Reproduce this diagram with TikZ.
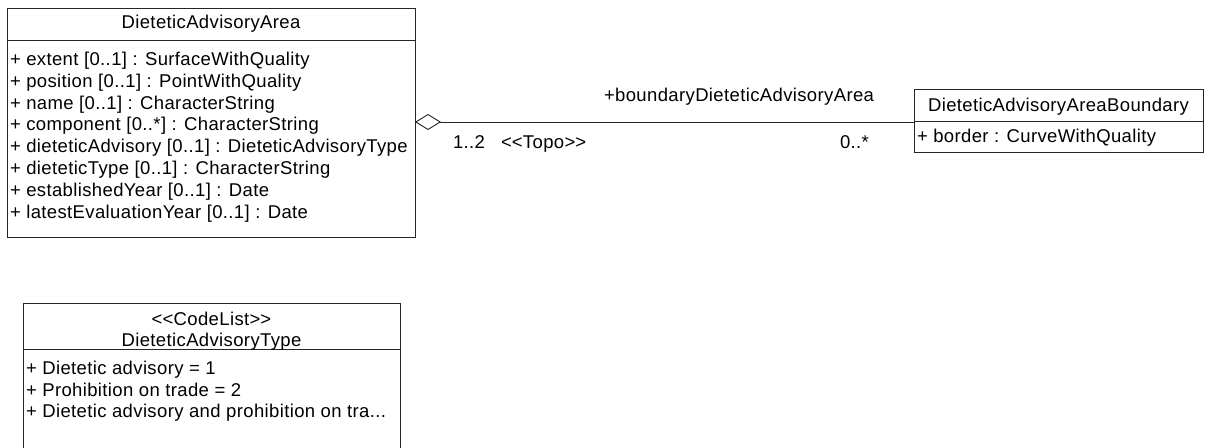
\documentclass[tikz,border=0pt]{standalone}
\usepackage{fontspec}
\setmainfont[LetterSpace=2]{Liberation Sans}
\usetikzlibrary{arrows.meta}
\newcommand{\lt}{<\kern0pt<}
\newcommand{\gt}{>\kern0pt>}
\begin{document}
\begin{tikzpicture}[x=1pt,y=-1pt,
  every node/.style={inner sep=0pt,outer sep=0pt,font=\fontsize{18.5pt}{21pt}\selectfont},
  umlbox/.style={draw=black!85,line width=0.9pt,fill=white,anchor=north west},
  sepline/.style={draw=black!85,line width=0.9pt},
  rowtxt/.style={anchor=base west},
  titletxt/.style={anchor=base},
  lbl/.style={anchor=base west}]
\useasboundingbox (0,0) rectangle (1209,447);
\fill[white] (0,0) rectangle (1209,447);
% Box A
\node[umlbox,minimum width=408pt,minimum height=229pt] (A) at (7,8) {};
\draw[sepline] (7,40) -- (415,40);
\node[titletxt] (At) at (211,28) {DieteticAdvisoryArea};
\node[rowtxt] (A1) at (10,65.5) {+ extent [0..1] : SurfaceWithQuality};
\node[rowtxt] (A2) at (10,87.3) {+ position [0..1] : PointWithQuality};
\node[rowtxt] (A3) at (10,109.1) {+ name [0..1] : CharacterString};
\node[rowtxt] (A4) at (10,130.9) {+ component [0..*] : CharacterString};
\node[rowtxt] (A5) at (10,152.7) {+ dieteticAdvisory [0..1] : DieteticAdvisoryType};
\node[rowtxt] (A6) at (10,174.5) {+ dieteticType [0..1] : CharacterString};
\node[rowtxt] (A7) at (10,196.3) {+ establishedYear [0..1] : Date};
\node[rowtxt] (A8) at (10,218.1) {+ latestEvaluationYear [0..1] : Date};
% Box B
\node[umlbox,minimum width=289pt,minimum height=63pt] (B) at (914,89) {};
\draw[sepline] (914,121) -- (1203,121);
\node[titletxt] (Bt) at (1058.5,111) {DieteticAdvisoryAreaBoundary};
\node[rowtxt] (B1) at (917,142) {+ border : CurveWithQuality};
% Box C
\node[umlbox,minimum width=377pt,minimum height=160pt] (C) at (23,303) {};
\draw[sepline] (23,349) -- (400,349);
\node[titletxt] (Ct1) at (211.5,325) {\lt CodeList\gt};
\node[titletxt] (Ct2) at (211.5,346) {DieteticAdvisoryType};
\node[rowtxt] (C1) at (26,374.5) {+ Dietetic advisory = 1};
\node[rowtxt] (C2) at (26,396) {+ Prohibition on trade = 2};
\node[rowtxt] (C3) at (26,417.5) {+ Dietetic advisory and prohibition on tra...};
% Association
\coordinate (aE) at (415,122);
\coordinate (bW) at (914,122);
\draw[black!85,line width=0.9pt,{Diamond[open,length=26pt,width=16pt,line width=0.9pt]}-] (aE) -- (bW);
\node[anchor=base] (role) at (739,101) {+boundaryDieteticAdvisoryArea};
\node[lbl] (m1) at (453,148) {1..2};
\node[lbl] (st) at (501,148) {\lt Topo\gt};
\node[lbl] (m2) at (840,148) {0..*};
\end{tikzpicture}
\end{document}
